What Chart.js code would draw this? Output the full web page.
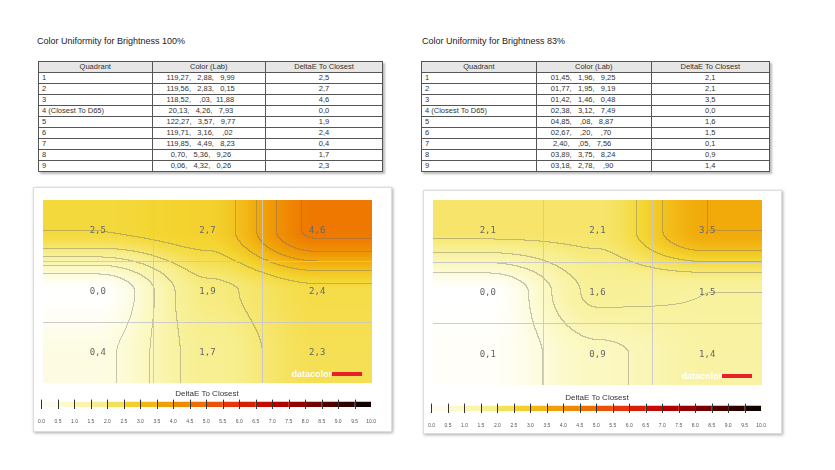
<!DOCTYPE html>
<html><head><meta charset="utf-8">
<script src="https://cdn.jsdelivr.net/npm/chart.js@4"></script>
<style>
body{margin:0;background:#fff;font-family:"Liberation Sans",Arial,sans-serif;width:835px;height:470px;position:relative;overflow:hidden}
.ttl{position:absolute;font-size:9px;color:#222}
table{position:absolute;border-collapse:collapse;font-size:7.5px;color:#333;box-shadow:2px 2px 2px #bbb}
td,th{border:1px solid #555;height:10px;padding:0 3px;font-weight:normal;line-height:10px}
th{background:#e6e6e6;text-align:center}
td.c{text-align:center}
.panel{position:absolute;border:1px solid #ddd;box-shadow:1px 1px 3px #aaa;background:#fff}
.box{position:absolute}
</style></head><body>
<div class="ttl" style="left:37px;top:36px">Color Uniformity for Brightness 100%</div>
<div class="ttl" style="left:422px;top:36px">Color Uniformity for Brightness 83%</div>
<table id="t1" style="left:38px;top:61px;width:345px"></table>
<table id="t2" style="left:421px;top:61px;width:349px"></table>
<div class="panel" style="left:33px;top:187px;width:357px;height:243px"></div>
<div class="panel" style="left:423px;top:190px;width:357px;height:242px"></div>
<div class="box" style="left:43px;top:200px;width:329px;height:183px"><canvas id="h1"></canvas></div>
<div class="box" style="left:433px;top:200px;width:329px;height:185px"><canvas id="h2"></canvas></div>
<div class="box" style="left:36px;top:389px;width:342px;height:38px"><canvas id="c1"></canvas></div>
<div class="box" style="left:426px;top:393px;width:342px;height:38px"><canvas id="c2"></canvas></div>
<script>
const quadrants = ['1','2','3','4 (Closest To D65)','5','6','7','8','9'];
const lab100 = ['119,27,   2,88,   9,99','119,56,   2,83,   0,15','118,52,    ,03,  11,88',' 20,13,   4,26,   7,93','122,27,   3,57,   9,77','119,71,   3,16,    ,02','119,85,   4,49,   8,23','  0,70,   5,36,   9,26','  0,06,   4,32,   0,26'];
const de100 = [2.5, 2.7, 4.6, 0.0, 1.9, 2.4, 0.4, 1.7, 2.3];
const lab83 = ['01,45,   1,96,   9,25','01,77,   1,95,   9,19','01,42,   1,46,   0,48','02,38,   3,12,   7,49','04,85,    ,08,   8,87','02,67,    ,20,    ,70',' 2,40,    ,05,   7,56','03,89,   3,75,   8,24','03,18,   2,78,    ,90'];
const de83 = [2.1, 2.1, 3.5, 0.0, 1.6, 1.5, 0.1, 0.9, 1.4];
const barTicks = [0,0.5,1,1.5,2,2.5,3,3.5,4,4.5,5,5.5,6,6.5,7,7.5,8,8.5,9,9.5,10];

const fmt = v => v.toFixed(1).replace('.', ',');

function fillTable(id, lab, de) {
  let h = '<tr><th style="width:33%">Quadrant</th><th style="width:33%">Color (Lab)</th><th>DeltaE To Closest</th></tr>';
  quadrants.forEach((q, i) => {
    h += `<tr><td>${q}</td><td style="padding-left:14px;white-space:pre">${lab[i]}</td><td class="c">${fmt(de[i])}</td></tr>`;
  });
  document.getElementById(id).innerHTML = h;
}
fillTable('t1', lab100, de100);
fillTable('t2', lab83, de83);

/* colour map 0..10 */
const CMAP = [[0,[255,255,255]],[0.7,[252,250,205]],[1.8,[247,238,140]],[2.6,[244,214,50]],[3.5,[241,170,10]],[4.6,[238,120,0]],[5.8,[230,50,10]],[7,[190,0,0]],[8.2,[120,0,0]],[9.2,[50,0,0]],[10,[0,0,0]]];
function cmap(v) {
  v = Math.max(0, Math.min(10, v));
  for (let i = 1; i < CMAP.length; i++) {
    if (v <= CMAP[i][0]) {
      const [a, ca] = CMAP[i-1], [b, cb] = CMAP[i], t = (v - a) / (b - a);
      return ca.map((c, k) => Math.round(c + (cb[k] - c) * t));
    }
  }
  return [0,0,0];
}

/* heatmap drawn from the 3x3 values through chart scales */
const heatPlugin = {
  id: 'heat',
  beforeDatasetsDraw(chart) {
    const { ctx, chartArea: a, scales: { x, y } } = chart;
    const pts = chart.data.datasets[0].data;
    const grid = [[],[],[]];
    pts.forEach(p => { grid[Math.floor(2.99 - (p.y - 0.5))][Math.floor(p.x)] = p.v; });
    const w = Math.round(a.right - a.left), h = Math.round(a.bottom - a.top);
    const img = ctx.createImageData(w, h);
    const sm = t => t * t * (3 - 2 * t);
    const field = new Float32Array(w * h);
    for (let py = 0; py < h; py++) {
      const gy = 3 - y.getValueForPixel(a.top + py);
      const fy = Math.max(0, Math.min(2, gy - 0.5));
      const r0 = Math.min(1, Math.floor(fy)), ty = sm(fy - r0);
      for (let px = 0; px < w; px++) {
        const gx = x.getValueForPixel(a.left + px);
        const fx = Math.max(0, Math.min(2, gx - 0.5));
        const c0 = Math.min(1, Math.floor(fx)), tx = sm(fx - c0);
        field[py * w + px] = (grid[r0][c0] * (1 - tx) + grid[r0][c0+1] * tx) * (1 - ty) +
                  (grid[r0+1][c0] * (1 - tx) + grid[r0+1][c0+1] * tx) * ty;
      }
    }
    for (let py = 0; py < h; py++) for (let px = 0; px < w; px++) {
      const i = py * w + px, v = field[i];
      let c = cmap(v);
      const lv = Math.floor(v / 0.5);
      if ((px + 1 < w && Math.floor(field[i + 1] / 0.5) !== lv) || (py + 1 < h && Math.floor(field[i + w] / 0.5) !== lv))
        c = c.map(k => Math.round(k * 0.62 + 40));
      const o = i * 4;
      img.data[o] = c[0]; img.data[o+1] = c[1]; img.data[o+2] = c[2]; img.data[o+3] = 255;
    }
    ctx.putImageData(img, a.left, a.top);
    ctx.strokeStyle = 'rgba(200,200,200,0.9)'; ctx.lineWidth = 1;
    [1, 2].forEach(v => {
      const px = Math.round(x.getPixelForValue(v)) + 0.5, py = Math.round(y.getPixelForValue(v)) + 0.5;
      ctx.beginPath(); ctx.moveTo(px, a.top); ctx.lineTo(px, a.bottom); ctx.stroke();
      ctx.beginPath(); ctx.moveTo(a.left, py); ctx.lineTo(a.right, py); ctx.stroke();
    });
    const meta = chart.getDatasetMeta(0);
    ctx.font = '9px "DejaVu Sans Mono", monospace'; ctx.fillStyle = '#666';
    ctx.textAlign = 'center'; ctx.textBaseline = 'middle';
    meta.data.forEach((el, i) => ctx.fillText(fmt(pts[i].v), el.x, el.y));
    ctx.textAlign = 'right'; ctx.font = 'bold 9px "Liberation Sans", sans-serif'; ctx.fillStyle = '#fff';
    ctx.fillText('datacolor', a.right - 40, a.bottom - 8);
    ctx.fillStyle = '#e8202a'; ctx.fillRect(a.right - 40, a.bottom - 11, 30, 4);
  }
};

function buildHeat(id, de) {
  const data = de.map((v, i) => ({ x: i % 3 + 0.5, y: 2.5 - Math.floor(i / 3), v }));
  new Chart(document.getElementById(id), {
    type: 'scatter',
    data: { datasets: [{ data, pointRadius: 0 }] },
    options: {
      responsive: true, maintainAspectRatio: false, animation: false,
      layout: { padding: 0 },
      plugins: { legend: { display: false }, tooltip: { enabled: false } },
      scales: { x: { display: false, min: 0, max: 3 }, y: { display: false, min: 0, max: 3 } },
    },
    plugins: [heatPlugin],
  });
}
buildHeat('h1', de100);
buildHeat('h2', de83);

const tickMarks = {
  id: 'tickMarks',
  afterDatasetsDraw(chart) {
    const { ctx, chartArea: a, scales: { x } } = chart;
    ctx.strokeStyle = '#333'; ctx.lineWidth = 1;
    barTicks.forEach((v, i) => {
      if (i === barTicks.length - 1) return;
      const px = Math.round(x.getPixelForValue(v)) + 0.5;
      ctx.beginPath(); ctx.moveTo(px, a.top); ctx.lineTo(px, a.bottom); ctx.stroke();
    });
  }
};

function buildBar(id) {
  const segs = barTicks.slice(0, -1).map(t => ({
    data: [0.5], backgroundColor: `rgb(${cmap(t + 0.25).join(',')})`,
    barPercentage: 0.55, categoryPercentage: 1, borderWidth: 0,
  }));
  new Chart(document.getElementById(id), {
    type: 'bar',
    data: { labels: [''], datasets: segs },
    options: {
      indexAxis: 'y', responsive: true, maintainAspectRatio: false, animation: false,
      layout: { padding: { left: 4, right: 4 } },
      plugins: {
        legend: { display: false }, tooltip: { enabled: false },
        title: { display: true, text: 'DeltaE To Closest', color: '#333', font: { size: 8, weight: 'normal', family: '"Liberation Sans"' }, padding: { top: 0, bottom: 1 } },
      },
      scales: {
        x: { stacked: true, min: 0, max: 10, afterBuildTicks: s => { s.ticks = barTicks.map(v => ({ value: v })); },
             ticks: { callback: v => v.toFixed(1), font: { size: 5 }, color: '#555', maxRotation: 0, autoSkip: false, padding: 2 },
             grid: { display: false }, border: { display: false } },
        y: { stacked: true, display: false },
      },
    },
    plugins: [tickMarks],
  });
}
buildBar('c1');
buildBar('c2');
</script>
</body></html>
